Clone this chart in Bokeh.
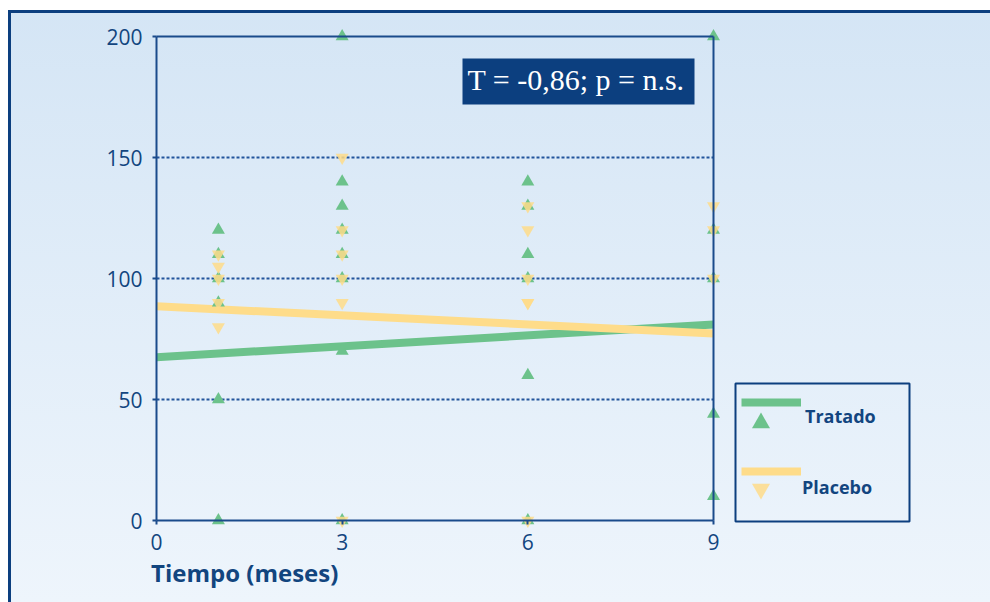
from bokeh.plotting import figure
from bokeh.models import (LinearAxis, FixedTicker, Range1d, BoxAnnotation, Label,
                          Legend, LegendItem, ColumnDataSource, InlineStyleSheet)
from bokeh.core.properties import value
from bokeh.embed import file_html
from bokeh.resources import INLINE

# ---------------- data ----------------
x_ticks = [0, 3, 6, 9]
y_ticks = [0, 50, 100, 150, 200]

tratado_x = [1, 1, 1, 1, 1, 1,
             3, 3, 3, 3, 3, 3, 3, 3,
             6, 6, 6, 6, 6, 6,
             9, 9, 9, 9, 9]
tratado_y = [120, 110, 100, 90, 50, 0,
             200, 140, 130, 120, 110, 100, 70, 0,
             140, 130, 110, 100, 60, 0,
             200, 120, 100, 44, 10]

placebo_x = [1, 1, 1, 1, 1,
             3, 3, 3, 3, 3, 3,
             6, 6, 6, 6, 6, 6,
             9, 9, 9]
placebo_y = [110, 105, 100, 90, 80,
             150, 120, 110, 100, 90, 0,
             130, 120, 100, 90, 90, 0,
             130, 120, 100]

fit_x = [0, 9]
tratado_fit = [67.5, 81.0]
placebo_fit = [88.5, 77.3]

series_names = ["Tratado", "Placebo"]
stat_text = "T = -0,86; p = n.s."
x_title = "Tiempo (meses)"

# ---------------- style / layout ----------------
W, H = 990, 602
X0_C, XMAX_C = 156, 713      # px of first / last x tick
Y0_C, YMAX_C = 520, 36       # px of first / last y tick

NAVY = "#0c3f7f"
AXIS = "#1a4b8b"
TEXT = "#12457f"
GRID = "#23559c"
GREEN = "#6cc28b"
YELLOW = "#fedc8a"

x_lo, x_hi = x_ticks[0], x_ticks[-1]
y_lo, y_hi = y_ticks[0], y_ticks[-1]
sx = (XMAX_C - X0_C) / (x_hi - x_lo)
sy = (Y0_C - YMAX_C) / (y_hi - y_lo)
x_start = x_lo - X0_C / sx
x_end = x_lo + (W - X0_C) / sx
y_start = y_lo - (H - Y0_C) / sy
y_end = y_hi + YMAX_C / sy


def dx(px):
    return x_lo + (px - X0_C) / sx


def dy(py):
    return y_lo + (Y0_C - py) / sy


p = figure(width=W, height=H, output_backend="svg", toolbar_location=None,
           x_range=Range1d(x_start, x_end), y_range=Range1d(y_start, y_end),
           min_border_left=0, min_border_right=0, min_border_top=0, min_border_bottom=0,
           background_fill_color=None, border_fill_color=None,
           outline_line_color=None)
p.title.visible = False
p.xgrid.visible = False
p.ygrid.visible = False

p.stylesheets = [InlineStyleSheet(css="""
:host {
  background:
    linear-gradient(to right, #ffffff 0px, #ffffff 8px, transparent 8px),
    linear-gradient(to bottom, #ffffff 0px, #ffffff 10px, #0c3f7f 10px, #0c3f7f 13px, transparent 13px),
    linear-gradient(to right, transparent 8px, #0c3f7f 8px, #0c3f7f 11px, transparent 11px),
    linear-gradient(to bottom, #d4e5f5 0%, #eef5fc 100%);
}
""")]

# axes
xa = p.xaxis[0]
xa.fixed_location = y_lo
xa.bounds = (x_lo, x_hi)
xa.ticker = FixedTicker(ticks=x_ticks)
ya = p.yaxis[0]
ya.fixed_location = x_lo
ya.bounds = (y_lo, y_hi)
ya.ticker = FixedTicker(ticks=y_ticks)
for ax in (xa, ya):
    ax.axis_line_color = AXIS
    ax.axis_line_width = 2
    ax.major_tick_line_color = AXIS
    ax.major_tick_line_width = 2
    ax.major_tick_out = 4
    ax.major_tick_in = 0
    ax.minor_tick_line_color = None
    ax.major_label_text_font = "Open Sans"
    ax.major_label_text_font_size = "21px"
    ax.major_label_text_color = TEXT
ya.major_label_standoff = 10
xa.major_label_standoff = 9

# x axis title, left aligned under the axis start
p.add_layout(Label(x=dx(150.5), y=dy(572.3), text=x_title, text_font="Open Sans",
                   text_font_style="bold", text_font_size="24px", text_color=TEXT,
                   text_align="left", text_baseline="middle"))

# frame lines at the top (y=200) and right (x=9)
top = LinearAxis(fixed_location=y_hi, bounds=(x_lo, x_hi), ticker=FixedTicker(ticks=[]),
                 axis_line_color=AXIS, axis_line_width=2, major_tick_line_color=None,
                 minor_tick_line_color=None, major_label_text_font_size="0px")
p.add_layout(top, "above")
right = LinearAxis(fixed_location=x_hi, bounds=(y_lo, y_hi), ticker=FixedTicker(ticks=[]),
                   axis_line_color=AXIS, axis_line_width=2, major_tick_line_color=None,
                   minor_tick_line_color=None, major_label_text_font_size="0px")
p.add_layout(right, "right")

# dotted grid lines between the axes
grid_y = y_ticks[1:-1]
gsrc = ColumnDataSource(dict(x0=[x_lo] * len(grid_y), x1=[x_hi] * len(grid_y),
                             y=grid_y))
p.segment(x0="x0", x1="x1", y0="y", y1="y", source=gsrc, line_color=GRID,
          line_width=2, line_dash="3 2")

# regression lines
l_tr = p.line(fit_x, tratado_fit, line_color=GREEN, line_width=8)
l_pl = p.line(fit_x, placebo_fit, line_color=YELLOW, line_width=8)

# points
s_tr = p.scatter(tratado_x, tratado_y, marker="triangle", size=13,
                 fill_color=GREEN, line_color=None)
s_pl = p.scatter(placebo_x, placebo_y, marker="inverted_triangle", size=13,
                 fill_color=YELLOW, fill_alpha=0.85, line_color=None)

# statistic box
p.add_layout(BoxAnnotation(left=dx(462), right=dx(694), top=dy(58), bottom=dy(104),
                           fill_color=NAVY, fill_alpha=1, line_color=None))
p.add_layout(Label(x=dx(467), y=dy(79.4), text=stat_text, text_font="Liberation Serif",
                   text_font_size="30px", text_color="white", text_align="left",
                   text_baseline="middle"))

# legend box
p.add_layout(BoxAnnotation(left=dx(735), right=dx(909), top=dy(383), bottom=dy(521),
                           fill_alpha=0, line_color=NAVY, line_alpha=1, line_width=2))


def make_legend(renderer, label, left, top_px, gw, gh, standoff):
    leg = Legend(items=[LegendItem(label=value(label), renderers=[renderer])],
                 location=(left, H - gh - top_px), padding=0, margin=0, spacing=0,
                 glyph_width=gw, glyph_height=gh, label_height=gh,
                 label_standoff=standoff, border_line_color=None,
                 background_fill_alpha=0, label_text_font="Open Sans",
                 label_text_font_style="bold", label_text_font_size="18px",
                 label_text_color=TEXT)
    p.add_layout(leg, "center")


# legend: line swatch, marker swatch, and the series name (text-only entry)
make_legend(l_tr, "", 741, 402 - 13, 60, 26, 0)
make_legend(s_tr, "", 737.5, 422.6 - 22.5, 45, 45, 0)
make_legend(s_tr, series_names[0], 805, 415.7 - 13, 0, 26, 0)
make_legend(l_pl, "", 741, 471 - 13, 60, 26, 0)
make_legend(s_pl, "", 737.5, 488.4 - 22.5, 45, 45, 0)
make_legend(s_pl, series_names[1], 802, 487 - 13, 0, 26, 0)

open("out.html", "w").write(file_html(p, INLINE))
